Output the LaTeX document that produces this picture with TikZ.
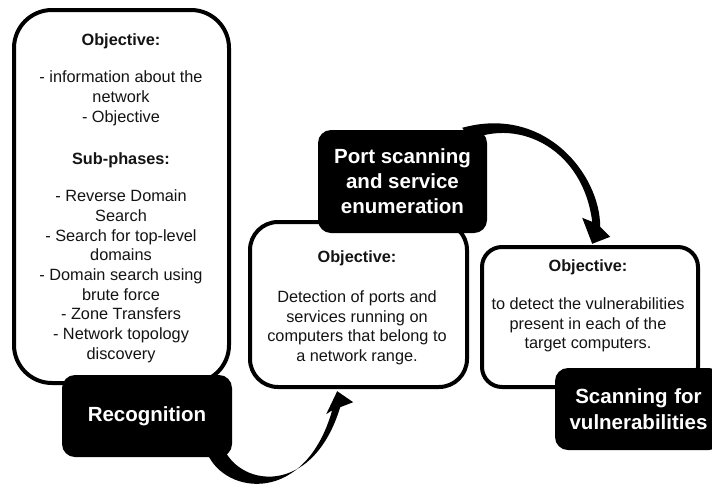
\documentclass[tikz,border=0pt]{standalone}
\usepackage{fontspec}
\setmainfont{Liberation Sans}
\begin{document}
\begin{tikzpicture}[x=1pt,y=-1pt,
  objbox/.style={draw=black, line width=4pt, fill=white, rectangle, inner sep=0pt},
  phase/.style={fill=black, rectangle, rounded corners=13pt, text=white, inner sep=0pt,
    font=\bfseries\fontsize{20.5}{26}\selectfont, align=center},
  bodytext/.style={align=center, text=black!92, inner sep=0pt,
    font=\fontsize{16.3}{19.7}\selectfont},
  bigarrow/.style={fill=black}]
\useasboundingbox (0,0) rectangle (712,488);
\clip (0,0) rectangle (712,488);

% objective panels
\node[objbox, rounded corners=38pt, minimum width=215pt, minimum height=373pt] (recobj) at (121.5,196.5) {};
\node[objbox, rounded corners=28pt, minimum width=217pt, minimum height=165pt] (portobj) at (358.5,304.5) {};
\node[objbox, rounded corners=20pt, minimum width=216pt, minimum height=140pt] (vulnobj) at (590,317) {};

% panel texts
\node[bodytext] (rectext) at (121,198) {\textbf{Objective:}\\[18pt]
  - information about the\\ network\\ - Objective\\[23pt]
  \textbf{Sub-phases:}\\[17pt]
  - Reverse Domain\\ Search\\ - Search for top-level\\ domains\\
  - Domain search using\\ brute force\\ - Zone Transfers\\
  - Network topology\\ discovery};
\node[bodytext] (porttext) at (357,308) {\textbf{Objective:}\\[20pt]
  Detection of ports and\\ services running on\\
  computers that belong to\\ a network range.};
\node[bodytext] (vulntext) at (588,306) {\textbf{Objective:}\\[18pt]
  to detect the vulnerabilities\\ present in each of the\\ target computers.};

% phase labels
\node[phase, minimum width=170pt, minimum height=82pt] (rec) at (147,416) {Recognition};
\node[phase, minimum width=169pt, minimum height=103pt, font=\bfseries\fontsize{20.5}{25}\selectfont] (port) at (402.5,181.5) {Port scanning\\ and service\\ enumeration};

% tapered arrow: Recognition -> port objective
\begin{scope}[shift={(rec.south east)}]
  \fill[bigarrow] (-25,-4) .. controls (-7,38) and (73,48) .. (100,-47)
    -- (94,-43) -- (105,-66) -- (121,-55) -- (108,-50)
    .. controls (82,35) and (15,31) .. (-6,-4) -- cycle;
\end{scope}

% tapered arrow: port scanning -> vulnerability objective
\begin{scope}[shift={(port.north east)}]
  \fill[bigarrow] (-17,10) .. controls (33,-12) and (96,20) .. (105,92)
    -- (95,88) -- (105,114) -- (123,107) -- (113,97)
    .. controls (113,45) and (58,-25) .. (-25,-2) -- cycle;
\end{scope}

\node[phase, minimum width=167pt, minimum height=82pt, text width=160pt] (vuln) at (638.5,409) {Scanning for\\ vulnerabilities};
\end{tikzpicture}
\end{document}
